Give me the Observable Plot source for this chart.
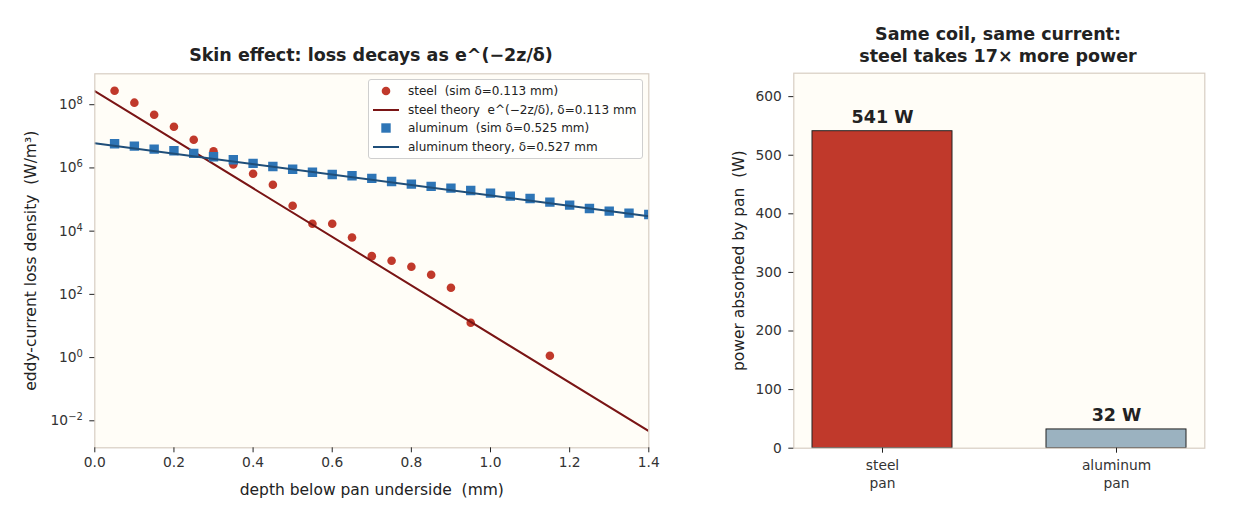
<!DOCTYPE html>
<html>
<head>
<meta charset="utf-8">
<script src="https://cdn.jsdelivr.net/npm/d3@7"></script>
<script src="https://cdn.jsdelivr.net/npm/@observablehq/plot@0.6"></script>
<style>
  body { margin: 0; background: #ffffff; }
  #wrap { position: relative; width: 1248px; height: 520px; overflow: hidden; font-family: "DejaVu Sans", sans-serif; color: #222; }
  .panel { position: absolute; top: 0; }
  .title { position: absolute; font: bold 17.5px "DejaVu Sans", sans-serif; color: #222; text-align: center; white-space: nowrap; transform: translate(-50%, -50%); line-height: 22px; }
  #legend { position: absolute; left: 368px; top: 79px; width: 275px; height: 80px; box-sizing: border-box; border: 1px solid #cfcfcf; border-radius: 3px; background: rgba(255,255,255,0.85); font: 12px "DejaVu Sans", sans-serif; color: #222; padding-top: 1.5px; }
  .lrow { display: flex; align-items: center; height: 18.8px; white-space: pre; }
  .lsym { width: 26px; margin-left: 4px; margin-right: 9px; height: 12px; }
</style>
</head>
<body>
<div id="wrap">
  <div class="panel" id="left" style="left:0px"></div>
  <div class="panel" id="right" style="left:700px"></div>
  <div class="title" style="left:371px; top:55px">Skin effect: loss decays as e^(−2z/δ)</div>
  <div class="title" style="left:998px; top:45px">Same coil, same current:<br>steel takes 17× more power</div>
  <div id="legend"></div>
</div>
<script>
// ---- data: left panel ----
const steelDepth = [0.05, 0.10, 0.15, 0.20, 0.25, 0.30, 0.35, 0.40, 0.45, 0.50, 0.55, 0.60, 0.65, 0.70, 0.75, 0.80, 0.85, 0.90, 0.95, 1.15];
const steelLoss  = [2.77e8, 1.16e8, 4.83e7, 2.01e7, 7.80e6, 3.33e6, 1.29e6, 6.55e5, 2.94e5, 6.37e4, 1.71e4, 1.71e4, 6.32e3, 1.62e3, 1.16e3, 7.46e2, 4.17e2, 1.62e2, 1.26e1, 1.14];

const alDepth = [0.05, 0.10, 0.15, 0.20, 0.25, 0.30, 0.35, 0.40, 0.45, 0.50, 0.55, 0.60, 0.65, 0.70, 0.75, 0.80, 0.85, 0.90, 0.95, 1.00, 1.05, 1.10, 1.15, 1.20, 1.25, 1.30, 1.35, 1.40];
const alLoss  = [5.83e6, 4.90e6, 3.94e6, 3.50e6, 2.88e6, 2.26e6, 1.82e6, 1.39e6, 1.11e6, 9.12e5, 7.33e5, 6.22e5, 5.66e5, 4.68e5, 3.74e5, 3.07e5, 2.60e5, 2.30e5, 1.94e5, 1.60e5, 1.28e5, 1.08e5, 8.28e4, 6.65e4, 5.22e4, 4.30e4, 3.72e4, 3.37e4];

// theory lines (straight on a log axis): values read at both ends
const theoryDepth = [0, 1.4];
const steelTheory = [2.7e8, 4.7e-3];
const alTheory    = [6.0e6, 2.95e4];

const depthTicks = [0, 0.2, 0.4, 0.6, 0.8, 1.0, 1.2, 1.4];
const lossTicks  = [1e-2, 1e0, 1e2, 1e4, 1e6, 1e8];

const legendLabels = [
  "steel  (sim δ=0.113 mm)",
  "steel theory  e^(−2z/δ), δ=0.113 mm",
  "aluminum  (sim δ=0.525 mm)",
  "aluminum theory, δ=0.527 mm"
];
const xLabelLeft  = "depth below pan underside  (mm)";
const yLabelLeft  = "eddy-current loss density  (W/m³)";
const yLabelRight = "power absorbed by pan  (W)";

// ---- data: right panel ----
const pans   = ["steel\npan", "aluminum\npan"];
const powerW = [541, 32];
const powerTicks = [0, 100, 200, 300, 400, 500, 600];

// ---- colours ----
const C = {
  steelDot: "#c0392b", steelLine: "#7a1515",
  alDot: "#2e75b6", alLine: "#1f4e79",
  steelBar: "#c0392b", alBar: "#9bb2c0",
  bg: "#fffdf7", frame: "#d8cec2", ink: "#333333"
};

const steel = steelDepth.map((z, i) => ({z, v: steelLoss[i]}));
const al = alDepth.map((z, i) => ({z, v: alLoss[i]}));
const sT = theoryDepth.map((z, i) => ({z, v: steelTheory[i]}));
const aT = theoryDepth.map((z, i) => ({z, v: alTheory[i]}));

const exp10 = d => String(Math.round(Math.log10(d))).replace("-", "−");

const TICK_FS = 13.8;
const baseStyle = {background: "transparent", fontFamily: "DejaVu Sans, sans-serif", fontSize: TICK_FS + "px", color: C.ink, overflow: "visible"};

const left = Plot.plot({
  width: 700, height: 520,
  marginLeft: 94.3, marginRight: 51.7, marginTop: 73.3, marginBottom: 72.7,
  style: baseStyle,
  x: {domain: [0, 1.4]},
  y: {type: "log", domain: [1.4e-3, 9.5e8]},
  marks: [
    Plot.frame({fill: C.bg, stroke: null}),
    Plot.dot(steel, {x: "z", y: "v", r: 4.3, fill: C.steelDot, symbol: "circle", clip: true}),
    Plot.line(sT, {x: "z", y: "v", stroke: C.steelLine, strokeWidth: 2, clip: true}),
    Plot.dot(al, {x: "z", y: "v", r: 5.3, fill: C.alDot, symbol: "square", clip: true}),
    Plot.line(aT, {x: "z", y: "v", stroke: C.alLine, strokeWidth: 2, clip: true}),
    Plot.frame({stroke: C.frame, strokeWidth: 1.2}),
    Plot.axisX({ticks: depthTicks, tickFormat: d3.format(".1f"), tickSize: 5, tickPadding: 4, stroke: "#222", label: null, fontSize: TICK_FS}),
    Plot.axisY({ticks: lossTicks, tickFormat: d => "10^" + exp10(d), tickSize: 5, tickPadding: 7, stroke: "#222", label: null, fontSize: TICK_FS}),
    Plot.text([xLabelLeft], {text: d => d, frameAnchor: "bottom", dy: 42, fontSize: 15.5, fill: "#222", lineAnchor: "middle", textAnchor: "middle"}),
    Plot.text([yLabelLeft], {text: d => d, frameAnchor: "left", dx: -64, rotate: -90, fontSize: 15.5, fill: "#222", lineAnchor: "middle", textAnchor: "middle"})
  ]
});
document.getElementById("left").appendChild(left);

// render exponents as superscripts
d3.select(left).selectAll('g[aria-label="y-axis tick label"] text').each(function () {
  const t = this.textContent;
  if (!t.includes("^")) return;
  const [base, e] = t.split("^");
  const sel = d3.select(this);
  sel.text(null);
  sel.append("tspan").text(base);
  sel.append("tspan").attr("dy", "-0.5em").attr("font-size", "0.72em").text(e);
});

const bars = pans.map((p, i) => ({pan: p, w: powerW[i], fill: i === 0 ? C.steelBar : C.alBar}));

const right = Plot.plot({
  width: 548, height: 520,
  marginLeft: 93.3, marginRight: 43.7, marginTop: 72.7, marginBottom: 72.3,
  style: baseStyle,
  x: {domain: pans, paddingInner: 0.4, paddingOuter: 0.078, align: 0.5},
  y: {domain: [0, 640]},
  marks: [
    Plot.frame({fill: C.bg, stroke: null}),
    Plot.barY(bars, {x: "pan", y: "w", fill: d => d.fill, stroke: "#222", strokeWidth: 1}),
    Plot.text(bars, {x: "pan", y: "w", text: d => `${d.w} W`, dy: -8, lineAnchor: "bottom", fontWeight: "bold", fontSize: 17.5, fill: "#222"}),
    Plot.frame({stroke: C.frame, strokeWidth: 1.2}),
    Plot.axisX({tickSize: 5, tickPadding: 4, stroke: "#222", label: null, lineHeight: 1.3, fontSize: TICK_FS}),
    Plot.axisY({ticks: powerTicks, tickSize: 5, tickPadding: 7, stroke: "#222", label: null, fontSize: TICK_FS}),
    Plot.text([yLabelRight], {text: d => d, frameAnchor: "left", dx: -55, rotate: -90, fontSize: 15.5, fill: "#222", lineAnchor: "middle", textAnchor: "middle"})
  ]
});
document.getElementById("right").appendChild(right);

// legend (HTML overlay)
const legend = document.getElementById("legend");
const syms = [
  `<svg class="lsym" viewBox="0 0 26 12"><circle cx="13" cy="6" r="4.3" fill="${C.steelDot}"/></svg>`,
  `<svg class="lsym" viewBox="0 0 26 12"><line x1="0" x2="26" y1="6" y2="6" stroke="${C.steelLine}" stroke-width="2"/></svg>`,
  `<svg class="lsym" viewBox="0 0 26 12"><rect x="8.3" y="1.3" width="9.4" height="9.4" fill="${C.alDot}"/></svg>`,
  `<svg class="lsym" viewBox="0 0 26 12"><line x1="0" x2="26" y1="6" y2="6" stroke="${C.alLine}" stroke-width="2"/></svg>`
];
legendLabels.forEach((t, i) => {
  const row = document.createElement("div");
  row.className = "lrow";
  row.innerHTML = syms[i] + `<span>${t}</span>`;
  legend.appendChild(row);
});
</script>
</body>
</html>
